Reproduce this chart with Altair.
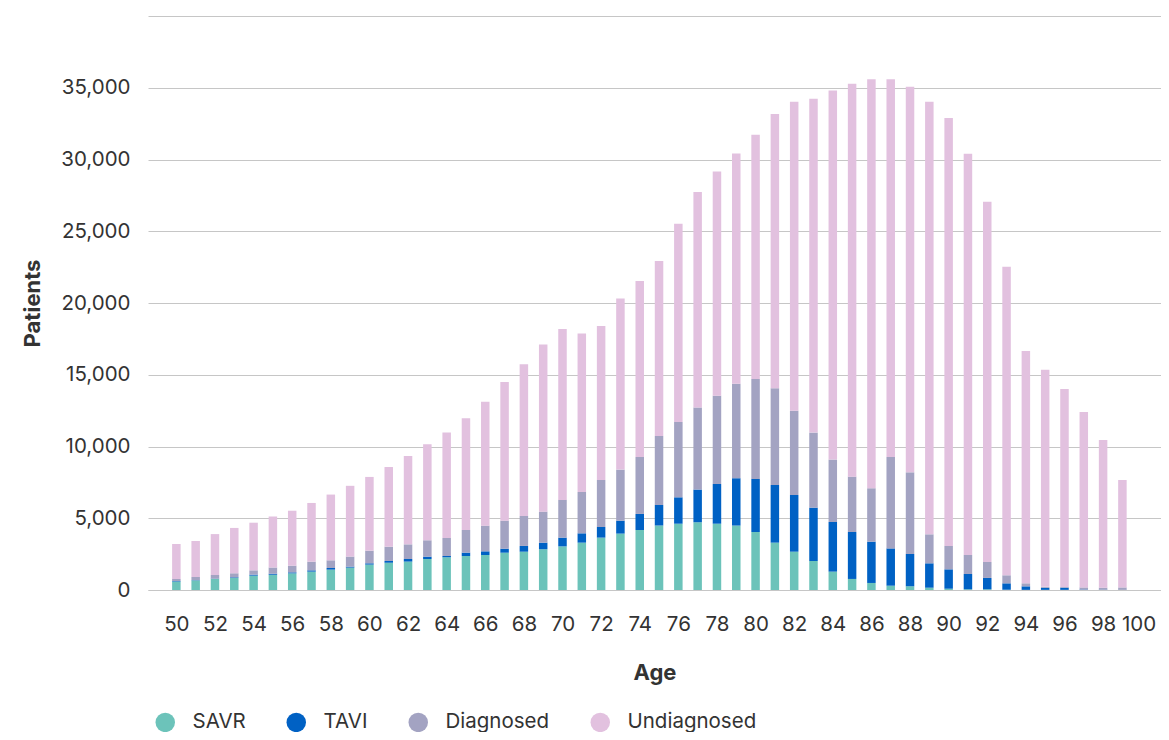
import altair as alt
import pandas as pd

ages = list(range(50, 100))
categories = ["SAVR", "TAVI", "Diagnosed", "Undiagnosed"]
colors = ["#6cc3ba", "#0061c4", "#a3a3c2", "#e2c1df"]

savr = [600, 670, 770, 840, 1000, 1070, 1160, 1280, 1420, 1560,
        1770, 1900, 1980, 2160, 2280, 2370, 2440, 2600, 2670, 2840,
        3040, 3300, 3650, 3930, 4180, 4490, 4620, 4720, 4620, 4490,
        4040, 3300, 2670, 2020, 1280, 770, 490, 300, 260, 160,
        90, 50, 50, 20, 10, 10, 10, 0, 0, 0]
tavi = [20, 20, 20, 45, 70, 70, 70, 90, 115, 70,
        90, 120, 180, 165, 90, 235, 255, 280, 400, 460,
        610, 650, 740, 900, 1120, 1440, 1840, 2280, 2770, 3300,
        3700, 4020, 3950, 3720, 3460, 3270, 2880, 2600, 2250, 1700,
        1350, 1065, 790, 445, 245, 140, 150, 30, 20, 10]
diagnosed = [150, 216, 256, 280, 300, 420, 465, 605, 535, 700,
             880, 1000, 1020, 1140, 1255, 1580, 1790, 1950, 2090, 2160,
             2630, 2880, 3280, 3560, 3970, 4810, 5250, 5720, 6140, 6580,
             6970, 6740, 5880, 5230, 4350, 3860, 3720, 6370, 5690, 2020,
             1630, 1325, 1115, 560, 210, 70, 50, 150, 140, 170]
undiagnosed = [2440, 2510, 2850, 3160, 3320, 3570, 3830, 4090, 4580, 4930,
               5140, 5550, 6160, 6700, 7345, 7790, 8625, 9670, 10580, 11640,
               11905, 11040, 10730, 11920, 12270, 12180, 13810, 15020, 15640, 16040,
               17010, 19110, 21520, 23260, 25720, 27380, 28510, 26330, 26870, 30140,
               29830, 27960, 25100, 21500, 16195, 15120, 13800, 12225, 10300, 7485]

series = [savr, tavi, diagnosed, undiagnosed]
rows = []
for i, a in enumerate(ages):
    for k, cat in enumerate(categories):
        rows.append({"Age": a, "Category": cat, "Patients": series[k][i], "ord": k})
df = pd.DataFrame(rows)

x_ticks = list(range(50, 101, 2))
y_ticks = list(range(0, 40001, 5000))

text_color = "#333333"
grid_color = "#c6c6c6"

chart = alt.Chart(df).mark_bar(size=8.5).encode(
    x=alt.X(
        "Age:Q",
        scale=alt.Scale(domain=[48.79, 100.74], nice=False, zero=False),
        axis=alt.Axis(
            values=x_ticks, grid=False, ticks=False, tickSize=0,
            labelPadding=24, labelFontSize=20.5, labelColor=text_color,
            labelFlush=20, labelFlushOffset=14,
            domainColor=grid_color, domainWidth=1,
            title="Age", titleFontSize=22, titleFontWeight="bold",
            titleColor=text_color, titlePadding=28,
        ),
    ),
    y=alt.Y(
        "Patients:Q",
        stack="zero",
        scale=alt.Scale(domain=[0, 40000], nice=False),
        axis=alt.Axis(
            values=y_ticks,
            labelExpr="datum.value >= 40000 ? '' : format(datum.value, ',')",
            grid=True, gridColor=grid_color, gridWidth=1,
            ticks=False, tickSize=0, domain=False,
            labelPadding=18, labelFontSize=20.5, labelColor=text_color,
            title="Patients", titleFontSize=22, titleFontWeight="bold",
            titleColor=text_color, titlePadding=16,
        ),
    ),
    color=alt.Color(
        "Category:N",
        scale=alt.Scale(domain=categories, range=colors),
        legend=alt.Legend(
            title=None, orient="none", legendX=7, legendY=696,
            direction="horizontal", symbolType="circle", symbolSize=380,
            symbolStrokeWidth=0, symbolOpacity=1,
            labelFontSize=20.5, labelColor=text_color, labelOffset=17,
            columnPadding=40,
        ),
    ),
    order=alt.Order("ord:Q", sort="ascending"),
).properties(
    width=1013,
    height=574,
    autosize=alt.AutoSizeParams(type="none"),
    padding={"left": 140, "top": 8, "right": 0, "bottom": 142},
).configure(
    font="Inter",
).configure_view(
    stroke=None,
)

chart.save("out.html", embed_options={"renderer": "svg", "actions": False})
